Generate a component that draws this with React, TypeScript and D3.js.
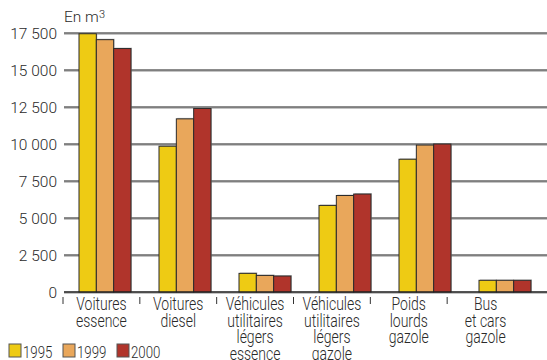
import React from "react";
import * as d3 from "d3";

const categories = [
  ["Voitures", "essence"],
  ["Voitures", "diesel"],
  ["Véhicules", "utilitaires", "légers", "essence"],
  ["Véhicules", "utilitaires", "légers", "gazole"],
  ["Poids", "lourds", "gazole"],
  ["Bus", "et cars", "gazole"],
];
const years = ["1995", "1999", "2000"];
const values1995 = [17450, 9850, 1260, 5850, 8970, 790];
const values1999 = [17050, 11700, 1120, 6520, 9930, 790];
const values2000 = [16450, 12400, 1080, 6620, 10000, 790];
const yTicks = [0, 2500, 5000, 7500, 10000, 12500, 15000, 17500];
const colors = ["#EECB14", "#E9A75B", "#B0342B"];
const title = "Consommation de carburants des véhicules en France selon leur catégorie, en milliers de m3";

const W = 547;
const H = 360;
const FONT = "Roboto, 'Liberation Sans', sans-serif";

export default function App() {
  const series = [values1995, values1999, values2000];
  const y = d3.scaleLinear().domain([0, 17500]).range([292, 33]);
  const xBars = d3.scaleBand<number>().domain(d3.range(categories.length)).range([67, 543]).paddingInner(0.35).paddingOuter(0.15);
  const xSub = d3.scaleBand<number>().domain(d3.range(years.length)).range([0, xBars.bandwidth()]).padding(0);
  const xAxis = d3.scaleBand<number>().domain(d3.range(categories.length)).range([63, 524]);
  const fmt = (v: number) => (v === 0 ? "0" : d3.format(",")(v).replace(/,/g, " "));

  return (
    <svg width={W} height={H} style={{ position: "absolute", left: 0, top: 0, background: "#fff" }} fontFamily={FONT} fontWeight={300}>
      <text x={2} y={-3} fontSize={15} fill="#777">{title}</text>
      {yTicks.map((t) => (
        <g key={t}>
          <line x1={64} x2={W} y1={y(t) + 1.2} y2={y(t) + 1.2} stroke="#aaa" strokeWidth={1} />
          <line x1={64} x2={W} y1={y(t)} y2={y(t)} stroke="#1a1a1a" strokeWidth={1.2} />
          <text x={57} y={y(t) + 5.5} textAnchor="end" fontSize={15.5} fill="#2a2a2a">{fmt(t)}</text>
        </g>
      ))}
      <text x={64} y={22} fontSize={15.5} fill="#2a2a2a">En m<tspan fontSize={11} dy={-4}>3</tspan></text>
      {categories.map((c, i) => (
        <g key={i}>
          {series.map((s, k) => {
            const x0 = (xBars(i) as number) + (xSub(k) as number);
            const yy = y(s[i]);
            return (
              <rect key={"s" + k} x={x0 + 1} y={yy - 1} width={xSub.bandwidth()} height={y(0) - yy} fill="#999" opacity={0.5} />
            );
          })}
          {series.map((s, k) => {
            const x0 = (xBars(i) as number) + (xSub(k) as number);
            const yy = y(s[i]);
            return (
              <rect key={k} x={x0} y={yy} width={xSub.bandwidth()} height={y(0) - yy} fill={colors[k]} stroke="#2b2b2b" strokeWidth={1} />
            );
          })}
        </g>
      ))}
      <line x1={64} x2={W} y1={y(0)} y2={y(0)} stroke="#1a1a1a" strokeWidth={1.2} />
      {categories.map((c, i) => {
        const tx = xAxis(i) as number;
        const cx = tx + xAxis.bandwidth() / 2;
        return (
          <g key={i}>
            <line x1={tx} x2={tx} y1={y(0) + 5} y2={y(0) + 12} stroke="#333" strokeWidth={1} />
            <g transform={`translate(${cx},0) scale(0.8,1)`}>
              <text textAnchor="middle" fontSize={17.5} fill="#2a2a2a">
                {c.map((w, j) => (
                  <tspan key={j} x={0} y={310.5 + j * 16.5}>{w}</tspan>
                ))}
              </text>
            </g>
          </g>
        );
      })}
      {years.map((yr, k) => {
        const lx = 9 + k * 54;
        return (
          <g key={yr}>
            <rect x={lx} y={344} width={12} height={13} fill={colors[k]} stroke="#555" strokeWidth={1} />
            <g transform={`translate(${lx + 14},0) scale(0.78,1)`}>
              <text x={0} y={358} fontSize={17} fill="#2a2a2a">{yr}</text>
            </g>
          </g>
        );
      })}
    </svg>
  );
}
